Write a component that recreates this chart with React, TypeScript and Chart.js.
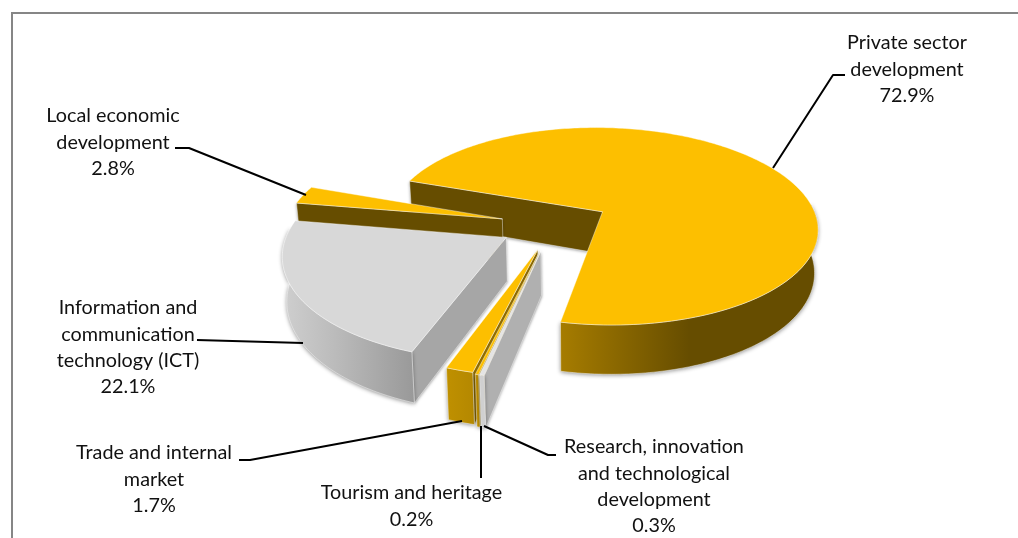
import React, { useEffect, useRef } from "react";
import { Chart, registerables } from "chart.js";

Chart.register(...registerables);

const categories = [
  "Private sector development",
  "Research, innovation and technological development",
  "Tourism and heritage",
  "Trade and internal market",
  "Information and communication technology (ICT)",
  "Local economic development",
];
const shares = [72.9, 0.3, 0.2, 1.7, 22.1, 2.8];
const explode = [59, 46, 46, 44, 44, 41];
const topColors = ["#FDBF00", "#E4E4E4", "#FDBF00", "#FDBF00", "#D8D8D8", "#FDBF00"];
const cutColors = ["#664D00", "#B0B0B0", "#9C7600", "#8F6C00", "#A6A6A6", "#664D00"];
const wallStops: [number, string][][] = [
  [[0, "#A67C00"], [0.5, "#664D00"], [1, "#664D00"]],
  [[0, "#D0D0D0"], [1, "#D0D0D0"]],
  [[0, "#BF9000"], [1, "#BF9000"]],
  [[0, "#BF9000"], [1, "#B48800"]],
  [[0, "#CFCFCF"], [0.4, "#BBBBBB"], [1, "#999999"]],
  [[0, "#664D00"], [1, "#664D00"]],
];
const labelLines = [
  ["Private sector", "development"],
  ["Research, innovation", "and technological", "development"],
  ["Tourism and heritage"],
  ["Trade and internal", "market"],
  ["Information and", "communication", "technology (ICT)"],
  ["Local economic", "development"],
];
const labelAnchors = [
  [907, 43], [654, 447], [411.5, 493], [154, 453], [128, 308], [113, 116],
];
const leaders = [
  [[773, 168], [833, 75], [845, 75]],
  [[484, 426], [548, 455], [556, 455]],
  [[481, 426], [481, 478]],
  [[462, 421], [250, 460], [239, 460]],
  [[303, 343], [197, 340]],
  [[306, 195], [189, 148], [175, 148]],
];
const paintOrder = [0, 5, 4, 3, 2, 1];
const sliceShiftX = [0, 4, 4, 4, 0, -3];
const sliceShiftY = [0, 1.5, 1.5, 1.5, 0, -2];
const FONT = "19.8px Lato, Carlito, 'Open Sans', sans-serif";
const LINE_H = 26.2;

// projection of the pie plane on the page
const CX = 548, CY = 226, RX = 216.5, RY = 100.8, PERSP = 0.15, DEPTH = 43, CONV = 0.015, VANISH_X = 580;
const project = (u: number, v: number, z: number): [number, number] => {
  const w = 1 - PERSP * v;
  const x0 = CX + (RX * u) / w;
  const y0 = CY + (RY * v + DEPTH * z) / w;
  return [VANISH_X + (x0 - VANISH_X) * (1 - CONV * z), y0];
};

const trace = (ctx: CanvasRenderingContext2D, pts: [number, number][]) => {
  ctx.beginPath();
  pts.forEach((p, i) => (i ? ctx.lineTo(p[0], p[1]) : ctx.moveTo(p[0], p[1])));
  ctx.closePath();
};

const pie3d = {
  id: "pie3d",
  beforeDatasetDraw() {
    return false;
  },
  afterDatasetsDraw(chart: any) {
    const ctx: CanvasRenderingContext2D = chart.ctx;
    const arcs = chart.getDatasetMeta(0).data;
    ctx.save();
    for (const i of paintOrder) {
      const a = arcs[i];
      const { startAngle, endAngle, outerRadius } = a.getProps(["startAngle", "endAngle", "outerRadius"], true);
      const off = a.options.offset / outerRadius;
      const mid = (startAngle + endAngle) / 2;
      const ou = off * Math.cos(mid), ov = off * Math.sin(mid);
      const n = Math.max(2, Math.ceil(((endAngle - startAngle) * 180) / Math.PI));
      const angles: number[] = [];
      for (let k = 0; k <= n; k++) angles.push(startAngle + ((endAngle - startAngle) * k) / n);
      const shifted = (p: [number, number]): [number, number] => [p[0] + sliceShiftX[i], p[1] + sliceShiftY[i]];
      const rim = (t: number, z: number) => shifted(project(ou + Math.cos(t), ov + Math.sin(t), z));
      const apex = (z: number) => shifted(project(ou, ov, z));

      // the cut face that looks towards the viewer
      const cuts = [
        { t: startAngle, seen: -Math.cos(startAngle) > 0 },
        { t: endAngle, seen: Math.cos(endAngle) > 0 },
      ].filter((c) => c.seen);
      for (const c of cuts) {
        const quad = [apex(0), rim(c.t, 0), rim(c.t, 1), apex(1)] as [number, number][];
        ctx.shadowColor = "rgba(0,0,0,0.4)";
        ctx.shadowBlur = 3;
        ctx.shadowOffsetY = 1;
        ctx.fillStyle = cutColors[i];
        trace(ctx, quad);
        ctx.fill();
        ctx.shadowColor = "transparent";
        ctx.strokeStyle = "rgba(255,255,255,0.55)";
        ctx.lineWidth = 0.8;
        ctx.stroke();
      }

      // outer wall, only the part that faces the viewer
      const front = angles.filter((t) => Math.sin(t) > -0.1);
      if (front.length > 1) {
        const wall: [number, number][] = [
          ...front.map((t) => rim(t, 0)),
          ...front.slice().reverse().map((t) => rim(t, 1)),
        ];
        const xs = wall.map((p) => p[0]);
        const g = ctx.createLinearGradient(Math.min(...xs), 0, Math.max(...xs), 0);
        wallStops[i].forEach(([s, c]) => g.addColorStop(s, c));
        ctx.shadowColor = "rgba(0,0,0,0.45)";
        ctx.shadowBlur = 4;
        ctx.shadowOffsetY = 1;
        ctx.fillStyle = g;
        trace(ctx, wall);
        ctx.fill();
        ctx.shadowColor = "transparent";
        ctx.strokeStyle = "rgba(255,255,255,0.55)";
        ctx.stroke();
      }

      // top face
      ctx.shadowColor = "transparent";
      ctx.fillStyle = a.options.backgroundColor;
      trace(ctx, [apex(0), ...angles.map((t) => rim(t, 0))]);
      ctx.fill();
      ctx.strokeStyle = "rgba(255,255,255,0.6)";
      ctx.lineWidth = 0.7;
      ctx.stroke();
    }

    // leader lines
    ctx.strokeStyle = "#000";
    ctx.lineWidth = 2;
    ctx.lineJoin = "round";
    leaders.forEach((l) => {
      ctx.beginPath();
      l.forEach((p, k) => (k ? ctx.lineTo(p[0], p[1]) : ctx.moveTo(p[0], p[1])));
      ctx.stroke();
    });

    // labels
    ctx.fillStyle = "#111";
    ctx.font = FONT;
    ctx.textAlign = "center";
    ctx.textBaseline = "middle";
    labelLines.forEach((lines, i) => {
      const [x, y] = labelAnchors[i];
      [...lines, shares[i].toFixed(1) + "%"].forEach((s, k) => ctx.fillText(s, x, y + k * LINE_H));
    });

    // frame
    ctx.strokeStyle = "#868686";
    ctx.lineWidth = 2;
    ctx.lineJoin = "miter";
    ctx.beginPath();
    ctx.moveTo(12, 538);
    ctx.lineTo(12, 13);
    ctx.lineTo(1018, 13);
    ctx.stroke();
    ctx.restore();
  },
};

export default function App() {
  const ref = useRef<HTMLCanvasElement>(null);
  useEffect(() => {
    document.body.style.margin = "0";
    const chart = new Chart(ref.current as HTMLCanvasElement, {
      type: "pie",
      data: {
        labels: categories,
        datasets: [
          {
            data: shares,
            backgroundColor: topColors,
            offset: explode,
            borderWidth: 0,
          },
        ],
      },
      options: {
        animation: false,
        responsive: false,
        rotation: 289.5,
        radius: 200,
        plugins: { legend: { display: false }, tooltip: { enabled: false } },
      },
      plugins: [pie3d],
    } as any);
    return () => chart.destroy();
  }, []);
  return <canvas ref={ref} width={1018} height={538} style={{ display: "block", background: "#fff" }} />;
}
